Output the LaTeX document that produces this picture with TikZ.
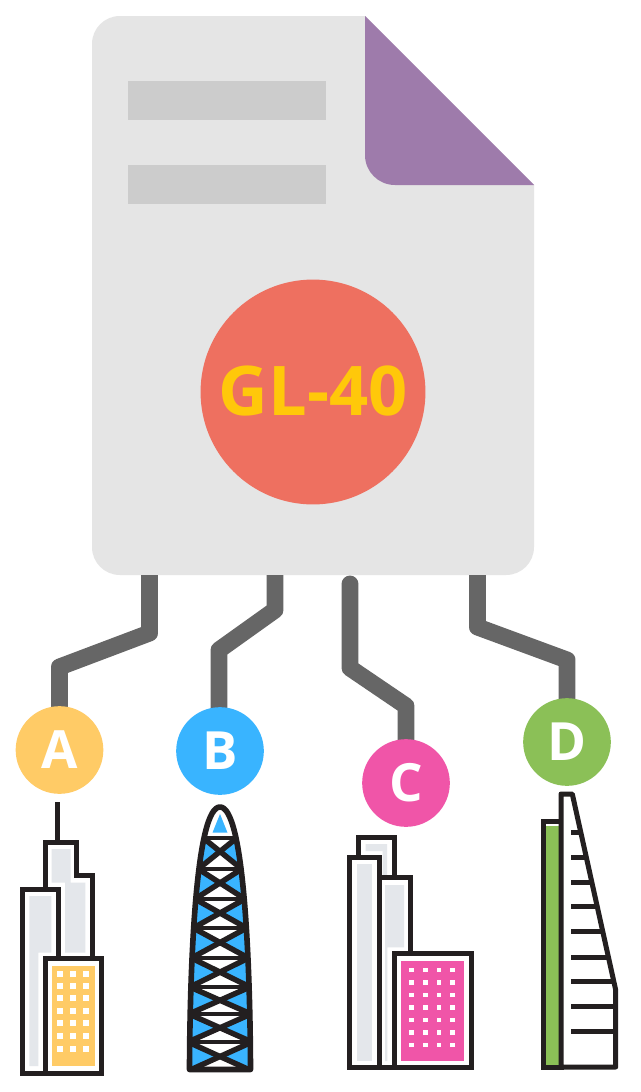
\documentclass[tikz,border=0pt]{standalone}
\usepackage{fontspec}
\setmainfont{Open Sans}
\definecolor{docgrey}{HTML}{E5E5E5}
\definecolor{bargrey}{HTML}{CCCCCC}
\definecolor{foldpurple}{HTML}{9E7BAB}
\definecolor{badgered}{HTML}{EE7060}
\definecolor{gold}{HTML}{FFC80A}
\definecolor{wire}{HTML}{666666}
\definecolor{cyellow}{HTML}{FFCB66}
\definecolor{cblue}{HTML}{39B4FF}
\definecolor{cpink}{HTML}{F055A8}
\definecolor{cgreen}{HTML}{8BC057}
\definecolor{ink}{HTML}{231F20}
\definecolor{pale}{HTML}{E4E7EB}
\pgfdeclarelayer{back}
\pgfsetlayers{back,main}
\tikzset{
  x=0.02cm,y=-0.02cm,
  wirepath/.style={draw=wire,line width=9.64pt,line join=round},
  tag/.style={circle,minimum size=49.9pt,inner sep=0pt,text=white,font=\fontsize{30}{30}\selectfont\bfseries},
  edge/.style={draw=ink,line width=2.85pt,fill=white,line join=miter},
  line/.style={draw=ink,line width=2.85pt},
}
\begin{document}
\begin{tikzpicture}
\useasboundingbox (0,0) rectangle (640,1092);
\begin{pgfonlayer}{back}
\fill[white] (0,0) rectangle (640,1092);
% document
\fill[docgrey] (365,16) [rounded corners=15.9pt] -- (92,16) -- (92,575) -- (534,575) [sharp corners] -- (534,185) -- cycle;
\fill[foldpurple] (365,16) -- (534,185) [rounded corners=17pt] -- (365,185) [sharp corners] -- cycle;
\fill[bargrey] (128,81) rectangle (326,120);
\fill[bargrey] (128,165) rectangle (326,204);
\end{pgfonlayer}
\node[circle,fill=badgered,minimum size=128pt,inner sep=0pt,text=gold,font=\fontsize{39}{39}\selectfont\bfseries] (gl) at (313,392) {\raisebox{1.7pt}{GL-40}};
% anchors of connectors
\coordinate (docA) at (149.5,575);
\coordinate (docB) at (275,575);
\coordinate (docC) at (350,584);
\coordinate (docD) at (477.5,575);
% badges
\node[tag,fill=cyellow] (A) at (59.5,750) {A};
\node[tag,fill=cblue] (B) at (220,751) {B};
\node[tag,fill=cpink] (C) at (406,783) {C};
\node[tag,fill=cgreen] (D) at (567,742) {D};
% connectors
\begin{pgfonlayer}{back}
\draw[wirepath] (docA) -- (149.5,633) -- (59.5,667) -- (A.center);
\draw[wirepath] (docB) -- (275,610) -- (219,650) -- (219,751);
\draw[wirepath,line cap=round] (docC) -- (350,668) -- (406,706) -- (C.center);
\draw[wirepath] (docD) -- (477.5,627) -- (567,660) -- (D.center);
\end{pgfonlayer}
% building A
\draw[line] (57.5,802) -- (57.5,842);
\draw[edge] (45.5,958) -- (45.5,842) -- (76.7,842) -- (76.7,875.7) -- (92.3,875.7) -- (92.3,958) -- cycle;
\fill[pale] (51.7,849) -- (70.7,849) -- (70.7,882.7) -- (85.3,882.7) -- (85.3,952.7) -- (65,952.7) -- (65,882.7) -- (51.7,882.7) -- cycle;
\draw[edge] (22.7,1073) -- (22.7,889) -- (58.7,889) -- (58.7,1073) -- cycle;
\fill[pale] (29.3,896) -- (51.3,896) -- (51.3,952.7) -- (38.3,952.7) -- (38.3,1066) -- (29.3,1066) -- cycle;
\draw[edge] (45.3,958) rectangle (101.3,1073);
\fill[cyellow] (51.7,965.7) rectangle (94.7,1066);
\foreach \wx in {60,73,86}
  \foreach \wy in {973.7,986.3,998.3,1010.7,1023,1036,1048.7}
    \fill[white] (\wx-3,\wy-3) rectangle (\wx+3,\wy+3);
% building B
\begin{scope}
\clip (189.5,1069.5) .. controls (190,950) and (197,807) .. (220,807) .. controls (243,807) and (250,950) .. (250.5,1069.5) -- cycle;
\fill[white] (180,800) rectangle (260,1075);
\fill[cblue] (220,814) -- (227.5,832.7) -- (212.5,832.7) -- cycle;
\foreach \ya/\wa/\yb/\wb in {838/16.7/869/21.7,869/21.7/899/25,899/25/928/26.7,928/26.7/958/28.5,958/28.5/987/30,987/30/1014/31,1014/31/1042/32,1042/32/1071/32}{
  \pgfmathsetmacro{\ym}{(\ya+\yb)/2}
  \fill[cblue] (220-\wa-8,\ya) -- (220-\wa,\ya) -- (220,\ym) -- (220-\wb,\yb) -- (220-\wb-8,\yb) -- cycle;
  \fill[cblue] (220+\wa+8,\ya) -- (220+\wa,\ya) -- (220,\ym) -- (220+\wb,\yb) -- (220+\wb+8,\yb) -- cycle;
  \draw[ink,line width=3.1pt] (220-\wa,\ya) -- (220+\wb,\yb);
  \draw[ink,line width=3.1pt] (220+\wa,\ya) -- (220-\wb,\yb);
  \draw[ink,line width=2.4pt] (220-\wa-6,\ya) -- (220+\wa+6,\ya);
}
\end{scope}
\draw[ink,line width=3.2pt,line join=round] (189.5,1069.5) .. controls (190,950) and (197,807) .. (220,807) .. controls (243,807) and (250,950) .. (250.5,1069.5) -- cycle;
% building C
\draw[edge] (358.7,878) -- (358.7,837.3) -- (394,837.3) -- (394,878) -- cycle;
\fill[pale] (365.7,844) -- (387,844) -- (387,875) -- (382.7,875) -- (382.7,851) -- (365.7,851) -- cycle;
\draw[edge] (349.7,1067) -- (349.7,857.3) -- (379,857.3) -- (379,1067) -- cycle;
\fill[pale] (356.7,864) rectangle (372,1061);
\draw[edge] (379,1067) -- (379,877.7) -- (410.7,877.7) -- (410.7,1067) -- cycle;
\fill[pale] (385,885) -- (404,885) -- (404,947.3) -- (387.3,947.3) -- (387.3,1061) -- (385,1061) -- cycle;
\draw[edge] (394,953) rectangle (471.3,1067);
\fill[cpink] (400.7,960.7) rectangle (464,1061);
\foreach \wx in {411.3,425.3,439,452.7}
  \foreach \wy in {970,982.3,995,1007.7,1020,1032.3,1045}
    \fill[white] (\wx-2.4,\wy-2.4) rectangle (\wx+2.4,\wy+2.4);
% building D
\draw[edge] (543,1067) -- (543,821.7) -- (561,821.7) -- (561,1067) -- cycle;
\fill[cgreen] (545.7,825.7) rectangle (558.5,1065);
\draw[edge,line join=round] (561,1067) -- (561,794) -- (572.3,794) -- (615.7,990) -- (615.7,1067) -- cycle;
\foreach \fy in {832.3,857.3,882,906.7,931.7,957,981.7}{
  \pgfmathsetmacro{\fx}{572.3+(\fy-794)*43.4/196}
  \draw[line] (571,\fy) -- (\fx,\fy);
}
\foreach \fy in {1006.7,1031.3}
  \draw[line] (571,\fy) -- (615.7,\fy);
\end{tikzpicture}
\end{document}
